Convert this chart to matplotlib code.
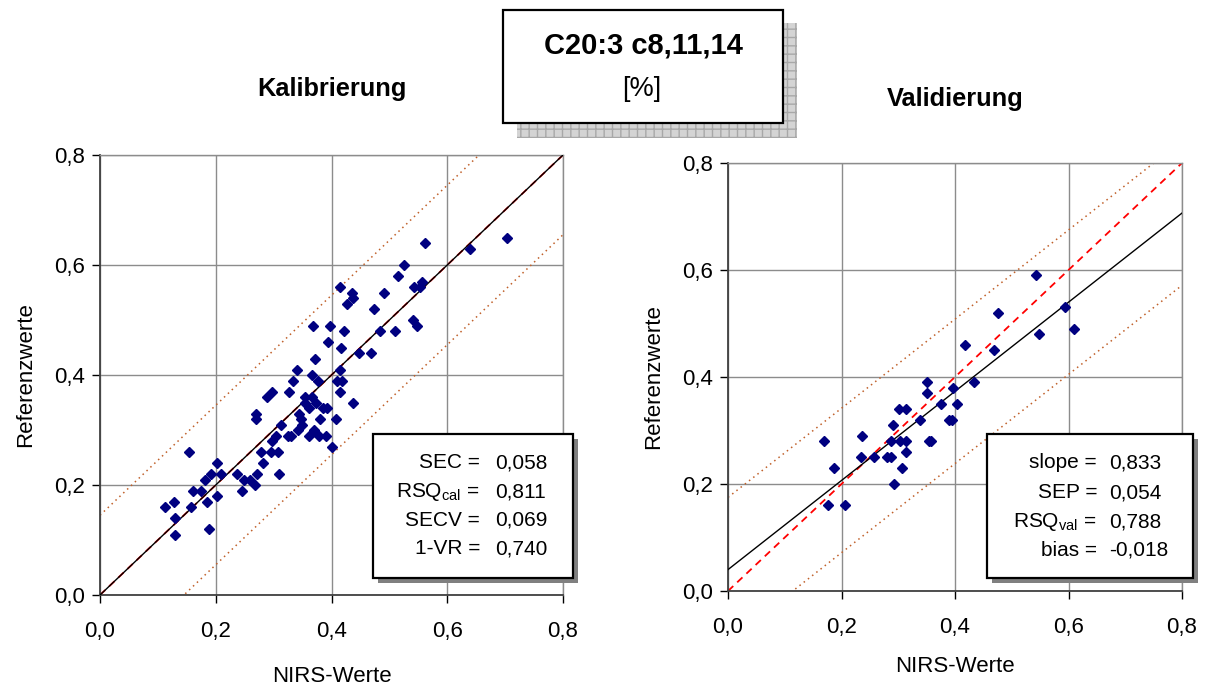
import numpy as np
import matplotlib
matplotlib.use("Agg")
from matplotlib import pyplot as plt
from matplotlib.patches import Rectangle

plt.rcParams['font.family'] = ['Liberation Sans', 'DejaVu Sans']
plt.rcParams['mathtext.default'] = 'regular'

# calibration set (NIRS, reference)
cal_x = [0.394, 0.417, 0.448, 0.468, 0.372, 0.340, 0.414, 0.366, 0.333, 0.377, 0.409, 0.418,
         0.298, 0.326, 0.414, 0.289, 0.354, 0.366, 0.354, 0.373, 0.437, 0.361, 0.386, 0.392,
         0.270, 0.344, 0.270, 0.348, 0.380, 0.407, 0.313, 0.349, 0.342, 0.370, 0.304, 0.325,
         0.330, 0.361, 0.378, 0.391, 0.297, 0.401, 0.154, 0.279, 0.296, 0.307, 0.203, 0.282,
         0.192, 0.209, 0.236, 0.272, 0.309, 0.181, 0.248, 0.260, 0.268, 0.160, 0.174, 0.246,
         0.203, 0.127, 0.185, 0.112, 0.158, 0.130, 0.188, 0.130,
         0.562, 0.640, 0.704, 0.526, 0.515, 0.414, 0.542, 0.553, 0.557, 0.435, 0.438, 0.490,
         0.427, 0.473, 0.541, 0.547, 0.368, 0.398, 0.421, 0.484, 0.510]
cal_y = [0.46, 0.45, 0.44, 0.44, 0.43, 0.41, 0.41, 0.40, 0.39, 0.39, 0.39, 0.39,
         0.37, 0.37, 0.37, 0.36, 0.36, 0.36, 0.35, 0.35, 0.35, 0.34, 0.34, 0.34,
         0.33, 0.33, 0.32, 0.32, 0.32, 0.32, 0.31, 0.31, 0.30, 0.30, 0.29, 0.29,
         0.29, 0.29, 0.29, 0.29, 0.28, 0.27, 0.26, 0.26, 0.26, 0.26, 0.24, 0.24,
         0.22, 0.22, 0.22, 0.22, 0.22, 0.21, 0.21, 0.21, 0.20, 0.19, 0.19, 0.19,
         0.18, 0.17, 0.17, 0.16, 0.16, 0.14, 0.12, 0.11,
         0.64, 0.63, 0.65, 0.60, 0.58, 0.56, 0.56, 0.56, 0.57, 0.55, 0.54, 0.55,
         0.53, 0.52, 0.50, 0.49, 0.49, 0.49, 0.48, 0.48, 0.48]

# validation set
val_x = [0.417, 0.468, 0.350, 0.434, 0.350, 0.396, 0.376, 0.404, 0.301, 0.314, 0.338, 0.389,
         0.394, 0.290, 0.169, 0.237, 0.287, 0.303, 0.314, 0.354, 0.358, 0.314, 0.234, 0.258,
         0.280, 0.288, 0.187, 0.306, 0.293, 0.177, 0.207,
         0.543, 0.475, 0.593, 0.610, 0.548]
val_y = [0.46, 0.45, 0.39, 0.39, 0.37, 0.38, 0.35, 0.35, 0.34, 0.34, 0.32, 0.32,
         0.32, 0.31, 0.28, 0.29, 0.28, 0.28, 0.28, 0.28, 0.28, 0.26, 0.25, 0.25,
         0.25, 0.25, 0.23, 0.23, 0.20, 0.16, 0.16,
         0.59, 0.52, 0.53, 0.49, 0.48]

# regression lines and +/- limits
cal_slope, cal_icpt, cal_band = 1.0, 0.0, 0.145
val_slope, val_icpt, val_band = 0.833, 0.040, 0.135

cal_labels = ["SEC =", "RSQ$_{cal}$ =", "SECV =", "1-VR ="]
cal_values = ["0,058", "0,811", "0,069", "0,740"]
val_labels = ["slope =", "SEP =", "RSQ$_{val}$ =", "bias ="]
val_values = ["0,833", "0,054", "0,788", "-0,018"]

ticks = [0.0, 0.2, 0.4, 0.6, 0.8]
tick_labels = ["0,0", "0,2", "0,4", "0,6", "0,8"]

W, H = 1207, 686
fig = plt.figure(figsize=(W / 100, H / 100), dpi=100)


def fx(x):
    return x / W


def fy(y):
    return 1 - y / H


def setup(ax, xlabelpad):
    ax.set_xlim(0, 0.8)
    ax.set_ylim(0, 0.8)
    ax.set_xticks(ticks)
    ax.set_yticks(ticks)
    ax.set_xticklabels(tick_labels, fontsize=16)
    ax.set_yticklabels(tick_labels, fontsize=16)
    ax.grid(True, color='#8c8c8c', lw=1)
    ax.set_axisbelow(True)
    ax.tick_params(direction='out', length=6, width=1)
    ax.tick_params(axis='x', pad=13)
    ax.tick_params(axis='y', pad=5)
    for s in ['left', 'bottom']:
        ax.spines[s].set_color('#404040')
        ax.spines[s].set_linewidth(1.3)
    for s in ['top', 'right']:
        ax.spines[s].set_color('#8c8c8c')
        ax.spines[s].set_linewidth(1)
    ax.set_xlabel("NIRS-Werte", fontsize=16, labelpad=xlabelpad)
    ax.set_ylabel("Referenzwerte", fontsize=16, labelpad=13)


def draw_lines(ax, slope, icpt, band):
    xx = np.array([0.0, 0.8])
    ax.plot(xx, xx, color='red', lw=1.3, ls=(0, (4, 3)), zorder=2)
    ax.plot(xx, slope * xx + icpt, color='black', lw=1, zorder=3)
    for d in (band, -band):
        ax.plot(xx, slope * xx + icpt + d, color='#c0602a', lw=1.1,
                ls=(0, (1, 2.5)), zorder=2)


def stats_box(x0, y0, x1, y1, labels, values, xl, xv, ys):
    fig.patches.append(Rectangle((fx(x0 + 5), fy(y1 + 5)), fx(x1 - x0), (y1 - y0) / H,
                                 transform=fig.transFigure, facecolor='#808080',
                                 edgecolor='none', zorder=4))
    fig.patches.append(Rectangle((fx(x0), fy(y1)), fx(x1 - x0), (y1 - y0) / H,
                                 transform=fig.transFigure, facecolor='white',
                                 edgecolor='black', lw=1.6, zorder=5))
    for lab, val, y in zip(labels, values, ys):
        fig.text(fx(xl), fy(y), lab, ha='right', va='center', fontsize=15, zorder=6)
        fig.text(fx(xv), fy(y), val, ha='left', va='center', fontsize=15, zorder=6)


ax1 = fig.add_axes([fx(100), fy(595), 463 / W, 440 / H])
setup(ax1, 17)
draw_lines(ax1, cal_slope, cal_icpt, cal_band)
ax1.plot(cal_x, cal_y, ls='none', marker='D', ms=5, color='#000080', zorder=4)

ax2 = fig.add_axes([fx(728), fy(591), 454 / W, 428 / H])
setup(ax2, 13)
draw_lines(ax2, val_slope, val_icpt, val_band)
ax2.plot(val_x, val_y, ls='none', marker='D', ms=5, color='#000080', zorder=4)

fig.text(fx(332), fy(89), "Kalibrierung", ha='center', va='center', fontsize=18.3, fontweight='bold')
fig.text(fx(955), fy(99), "Validierung", ha='center', va='center', fontsize=18.3, fontweight='bold')

stats_box(373, 434, 573, 578, cal_labels, cal_values, 480, 495, [463, 492, 520, 549])
stats_box(987, 434, 1193, 578, val_labels, val_values, 1097, 1109, [463, 493, 522, 550])

# title box with hatched shadow
fig.patches.append(Rectangle((fx(517), fy(138)), fx(280), 115 / H, transform=fig.transFigure,
                             facecolor='#d4d4d4', edgecolor='#a8a8a8', hatch='++', lw=0, zorder=4))
fig.patches.append(Rectangle((fx(503), fy(123)), fx(280), 113 / H, transform=fig.transFigure,
                             facecolor='white', edgecolor='black', lw=1.6, zorder=5))
fig.text(fx(643), fy(46), "C20:3 c8,11,14", ha='center', va='center', fontsize=21,
         fontweight='bold', zorder=6)
fig.text(fx(642), fy(89), "[%]", ha='center', va='center', fontsize=19.5, zorder=6)

fig.savefig("out.png", dpi=100)
